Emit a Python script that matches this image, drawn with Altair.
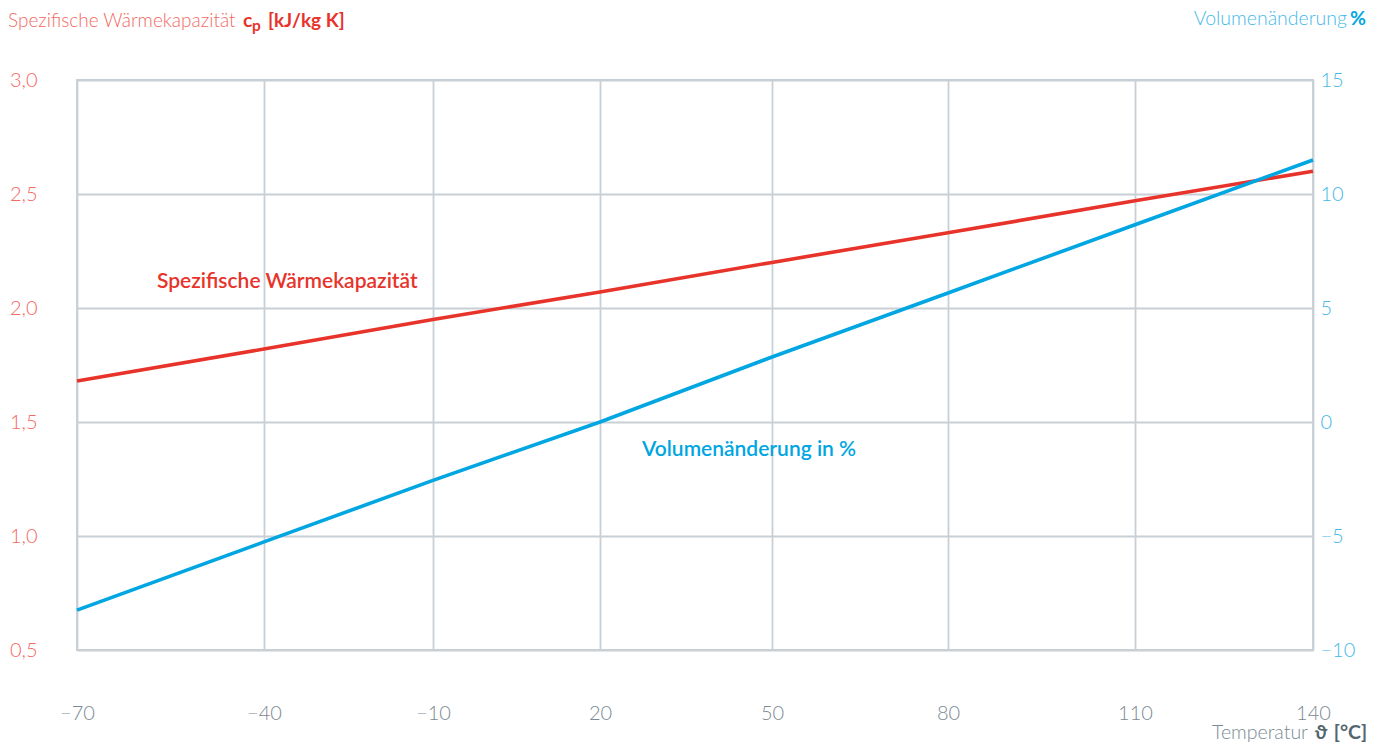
import altair as alt
import pandas as pd

# ---- data ----
temps = [-70, -40, -10, 20, 50, 80, 110, 140]
cp_values = [1.68, 1.82, 1.95, 2.07, 2.20, 2.33, 2.47, 2.60]          # kJ/kg K (left axis)
vol_values = [-8.25, -5.26, -2.56, 0.0, 2.85, 5.66, 8.65, 11.49]      # % (right axis)

x_ticks = [-70, -40, -10, 20, 50, 80, 110, 140]
cp_ticks = [0.5, 1.0, 1.5, 2.0, 2.5, 3.0]
vol_ticks = [-10, -5, 0, 5, 10, 15]

# texts
left_title_light = "Spezifische Wärmekapazität"
left_title_c = "c"
left_title_sub = "p"
left_title_unit = "[kJ/kg K]"
right_title_light = "Volumenänderung"
right_title_bold = "%"
x_title_light = "Temperatur"
x_title_sym = "ϑ"
x_title_unit = "[°C]"
label_cp = "Spezifische Wärmekapazität"
label_vol = "Volumenänderung in %"

# ---- styles ----
W, H = 1236, 570
X_RANGE = [0, 187, 356, 523, 695, 871, 1058, 1236]  # reference grid is drawn unevenly
RED = "#e8332b"
RED_LIGHT = "#f26a62"
BLUE = "#00a6e2"
BLUE_LIGHT = "#45b9e8"
GRAY = "#7b8a93"
DARK_GRAY = "#536670"
GRID = "#c8d0d5"
FONT = "Lato"

df = pd.DataFrame({"t": temps, "cp": cp_values, "vol": vol_values})

x_enc = alt.X(
    "t:Q",
    scale=alt.Scale(domain=x_ticks, range=X_RANGE, nice=False),
    axis=alt.Axis(values=x_ticks, grid=True, title=None, labelColor=GRAY,
                  labelPadding=53, labelFontSize=20, labelFont=FONT,
                  labelFontWeight=300, ticks=False, domain=False,
                  labelFlush=False),
)

red = alt.Chart(df).mark_line(color=RED, strokeWidth=3.6).encode(
    x=x_enc,
    y=alt.Y("cp:Q",
            scale=alt.Scale(domain=[0.5, 3.0], nice=False, zero=False),
            axis=alt.Axis(values=cp_ticks, orient="left", grid=True, title=None,
                          labelColor=RED_LIGHT, labelPadding=40, labelFontSize=20,
                          labelFont=FONT, labelFontWeight=300, ticks=False,
                          domain=False, labelFlush=False,
                          labelExpr="replace(format(datum.value, '.1f'), '.', ',')")),
)

blue = alt.Chart(df).mark_line(color=BLUE, strokeWidth=3.6).encode(
    x=x_enc,
    y=alt.Y("vol:Q",
            scale=alt.Scale(domain=[-10, 15], nice=False, zero=False),
            axis=alt.Axis(values=vol_ticks, orient="right", grid=False, title=None,
                          labelColor=BLUE_LIGHT, labelPadding=7, labelFontSize=20,
                          labelFont=FONT, labelFontWeight=300, ticks=False,
                          domain=False, labelFlush=False, format="d")),
)


def txt(s, px, py, color, size=20, weight=300, align="left"):
    return alt.Chart(pd.DataFrame({"s": [s]})).mark_text(
        font=FONT, fontSize=size, fontWeight=weight, color=color,
        align=align, baseline="alphabetic",
    ).encode(text="s:N", x=alt.value(px), y=alt.value(py))


texts = [
    txt(left_title_light, -69, -53, RED_LIGHT, size=19),
    txt(left_title_c, 166, -53, RED, size=19.5, weight=700),
    txt(left_title_sub, 175, -49, RED, size=15.5, weight=700),
    txt(left_title_unit, 191, -53, RED, size=19, weight=700),
    txt(right_title_light, 1270, -55, BLUE_LIGHT, size=19.5, align="right"),
    txt(right_title_bold, 1289, -55, BLUE, size=19.5, weight=700, align="right"),
    txt(x_title_light, 1231, 659, GRAY, size=19.5, align="right"),
    txt(x_title_sym, 1244, 659, DARK_GRAY, size=19.5, weight=700, align="center"),
    txt(x_title_unit, 1290, 659, DARK_GRAY, size=19.5, weight=700, align="right"),
    txt(label_cp, 80, 208, RED, size=21, weight=600),
    txt(label_vol, 565, 376, BLUE, size=21, weight=600),
]

chart = alt.layer(red, blue, *texts).resolve_scale(y="independent").properties(
    width=W, height=H, autosize="none",
    padding={"left": 69, "top": 72, "right": 66, "bottom": 93},
).configure_axis(
    gridColor=GRID, gridWidth=1.8,
).configure_view(
    stroke=GRID, strokeWidth=1.8,
)

chart.save("out.html", embed_options={"renderer": "svg", "actions": False})
